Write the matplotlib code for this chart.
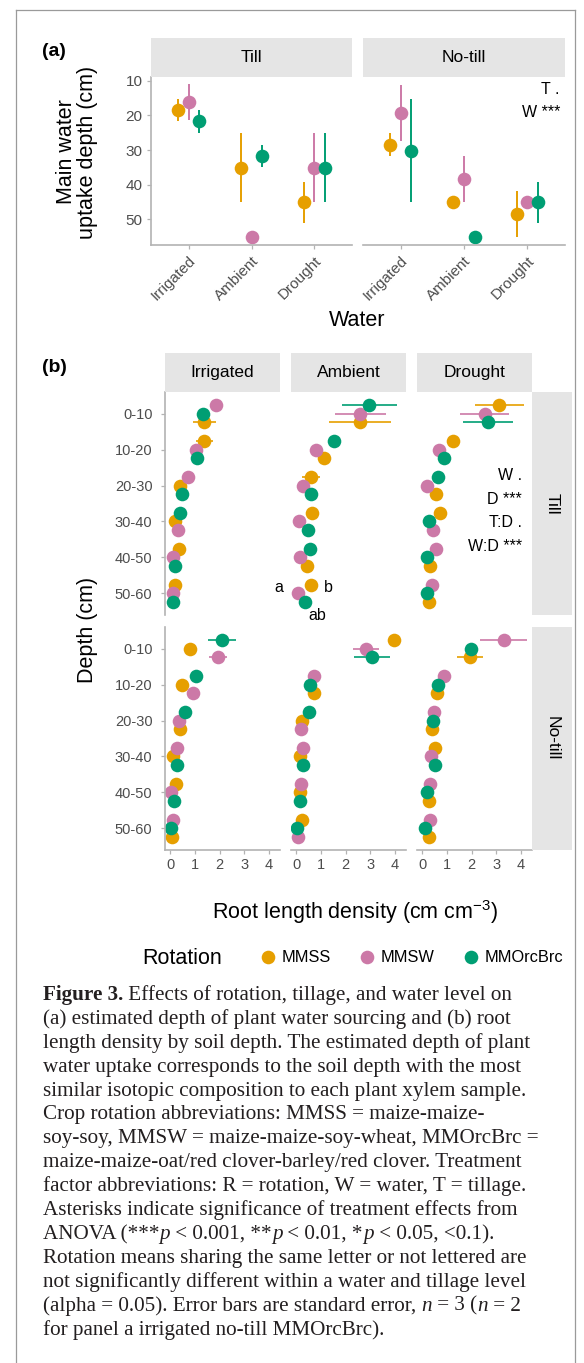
import matplotlib
matplotlib.use("Agg")
import matplotlib.pyplot as plt
from matplotlib.lines import Line2D
import numpy as np

W, H = 584, 1363

rotations = ["MMSS", "MMSW", "MMOrcBrc"]
rot_colors = ["#E69F00", "#CC79A7", "#009E73"]
rot_codes = {"O": 0, "P": 1, "G": 2}   # O = MMSS, P = MMSW, G = MMOrcBrc
water_levels = ["Irrigated", "Ambient", "Drought"]
tillage = ["Till", "No-till"]
depths = ["0-10", "10-20", "20-30", "30-40", "40-50", "50-60"]

# (a) main water uptake depth (cm); rows = rotation, cols = water level
uptake_till = [[18.5, 35.1, 45.1], [16.0, 55.1, 35.1], [21.7, 31.7, 35.1]]
uptake_till_se = [[3.2, 10.0, 5.9], [5.2, 0.0, 10.0], [3.3, 3.3, 10.0]]
uptake_notill = [[28.5, 45.1, 48.4], [19.2, 38.4, 45.1], [30.2, 55.1, 45.1]]
uptake_notill_se = [[3.3, 0.0, 6.6], [8.1, 6.7, 0.0], [14.9, 0.0, 5.9]]
uptake_stats = ["", "T .\nW ***"]

# (b) root length density (cm cm-3); rows = rotation, cols = depth
rld_till_irrigated = [[1.39, 1.39, 0.40, 0.20, 0.36, 0.19],
                      [1.86, 1.04, 0.74, 0.30, 0.13, 0.11],
                      [1.35, 1.08, 0.47, 0.38, 0.19, 0.13]]
rld_till_ambient = [[2.59, 1.12, 0.60, 0.66, 0.44, 0.62],
                    [2.59, 0.81, 0.28, 0.13, 0.15, 0.08],
                    [2.97, 1.52, 0.62, 0.46, 0.54, 0.35]]
rld_till_drought = [[3.12, 1.24, 0.56, 0.74, 0.31, 0.29],
                    [2.53, 0.69, 0.20, 0.45, 0.56, 0.38],
                    [2.67, 0.90, 0.64, 0.26, 0.20, 0.20]]
rld_notill_irrigated = [[0.81, 0.47, 0.40, 0.13, 0.24, 0.07],
                        [1.95, 0.94, 0.34, 0.27, 0.05, 0.11],
                        [2.09, 1.04, 0.61, 0.27, 0.16, 0.02]]
rld_notill_ambient = [[3.97, 0.71, 0.24, 0.17, 0.15, 0.24],
                      [2.84, 0.71, 0.20, 0.27, 0.20, 0.08],
                      [3.07, 0.58, 0.51, 0.27, 0.17, 0.04]]
rld_notill_drought = [[1.95, 0.61, 0.41, 0.50, 0.27, 0.27],
                      [3.30, 0.88, 0.47, 0.37, 0.30, 0.31],
                      [1.99, 0.65, 0.43, 0.50, 0.20, 0.11]]

rld_till_irrigated_se = [[0.47, 0.34, 0.10, 0.05, 0.08, 0.05],
                         [0.15, 0.10, 0.10, 0.05, 0.03, 0.03],
                         [0.12, 0.10, 0.08, 0.05, 0.04, 0.03]]
rld_till_ambient_se = [[1.26, 0.20, 0.35, 0.10, 0.08, 0.10],
                       [1.03, 0.10, 0.05, 0.03, 0.03, 0.02],
                       [1.12, 0.15, 0.10, 0.08, 0.08, 0.06]]
rld_till_drought_se = [[1.00, 0.15, 0.10, 0.12, 0.05, 0.05],
                       [1.00, 0.10, 0.04, 0.08, 0.10, 0.06],
                       [1.02, 0.12, 0.10, 0.04, 0.04, 0.04]]
rld_notill_irrigated_se = [[0.10, 0.08, 0.06, 0.03, 0.04, 0.02],
                           [0.36, 0.12, 0.06, 0.05, 0.02, 0.03],
                           [0.57, 0.15, 0.10, 0.05, 0.04, 0.25]]
rld_notill_ambient_se = [[0.20, 0.10, 0.05, 0.04, 0.03, 0.05],
                         [0.52, 0.10, 0.04, 0.05, 0.04, 0.02],
                         [0.73, 0.08, 0.08, 0.05, 0.04, 0.02]]
rld_notill_drought_se = [[0.52, 0.10, 0.06, 0.08, 0.05, 0.05],
                         [0.94, 0.12, 0.08, 0.06, 0.05, 0.05],
                         [0.20, 0.10, 0.06, 0.08, 0.04, 0.03]]

# vertical dodge order inside each depth band, top to bottom
order_till_irrigated = ["PGO", "OPG", "POG", "GOP", "OPG", "OPG"]
order_till_ambient = ["GPO", "GPO", "OPG", "OPG", "GPO", "OPG"]
order_till_drought = ["OPG", "OPG", "GPO", "OGP", "PGO", "PGO"]
order_notill_irrigated = ["GOP", "GOP", "GPO", "POG", "OPG", "PGO"]
order_notill_ambient = ["OPG", "PGO", "GOP", "POG", "POG", "OGP"]
order_notill_drought = ["PGO", "PGO", "PGO", "OPG", "PGO", "PGO"]

rld_stats = "W .\nD ***\nT:D .\nW:D ***"
letters_till_ambient_5060 = ["b", "a", "ab"]   # MMSS, MMSW, MMOrcBrc

caption = [
    [("Figure 3.", "b"), (" Effects of rotation, tillage, and water level on", "r")],
    [("(a) estimated depth of plant water sourcing and (b) root", "r")],
    [("length density by soil depth. The estimated depth of plant", "r")],
    [("water uptake corresponds to the soil depth with the most", "r")],
    [("similar isotopic composition to each plant xylem sample.", "r")],
    [("Crop rotation abbreviations: MMSS = maize-maize-", "r")],
    [("soy-soy, MMSW = maize-maize-soy-wheat, MMOrcBrc =", "r")],
    [("maize-maize-oat/red clover-barley/red clover. Treatment", "r")],
    [("factor abbreviations: R = rotation, W = water, T = tillage.", "r")],
    [("Asterisks indicate significance of treatment effects from", "r")],
    [("ANOVA (***", "r"), ("p", "i"), (" < 0.001, **", "r"), ("p", "i"),
     (" < 0.01, *", "r"), ("p", "i"), (" < 0.05, <0.1).", "r")],
    [("Rotation means sharing the same letter or not lettered are", "r")],
    [("not significantly different within a water and tillage level", "r")],
    [("(alpha = 0.05). Error bars are standard error, ", "r"), ("n", "i"),
     (" = 3 (", "r"), ("n", "i"), (" = 2", "r")],
    [("for panel a irrigated no-till MMOrcBrc).", "r")],
]

plt.rcParams["font.family"] = ["Liberation Sans", "DejaVu Sans"]
plt.rcParams["mathtext.fontset"] = "custom"
plt.rcParams["mathtext.rm"] = "Liberation Sans"
plt.rcParams["mathtext.it"] = "Liberation Sans:italic"
plt.rcParams["mathtext.bf"] = "Liberation Sans:bold"

AXIS_GREY = "#B3B3B3"
TICK_GREY = "#4D4D4D"
STRIP_GREY = "#E5E5E5"

fig = plt.figure(figsize=(W / 100, H / 100), dpi=100)


def box(x0, y0, x1, y1):
    return [x0 / W, 1 - y1 / H, (x1 - x0) / W, (y1 - y0) / H]


def style_axes(ax, left=True, bottom=True, size=10, ypad=3):
    for s in ["top", "right"]:
        ax.spines[s].set_visible(False)
    for s in ["left", "bottom"]:
        ax.spines[s].set_color(AXIS_GREY)
        ax.spines[s].set_linewidth(1.2)
    ax.spines["left"].set_visible(left)
    ax.spines["bottom"].set_visible(bottom)
    ax.tick_params(colors=AXIS_GREY, labelcolor=TICK_GREY, labelsize=size,
                   length=3, width=0.9, pad=3)
    ax.tick_params(axis="y", left=left, labelleft=left, pad=ypad)
    ax.tick_params(axis="x", bottom=bottom, labelbottom=bottom)
    ax.set_facecolor("none")


def strip(rect, label, rotation=0):
    s = fig.add_axes(rect)
    s.set_facecolor(STRIP_GREY)
    s.set_xticks([])
    s.set_yticks([])
    for sp in s.spines.values():
        sp.set_visible(False)
    s.text(0.5, 0.5, label, ha="center", va="center", fontsize=12.5,
           rotation=rotation, transform=s.transAxes)


# ---------------- panel (a) ----------------
a_means = [uptake_till, uptake_notill]
a_ses = [uptake_till_se, uptake_notill_se]
a_x = [(151, 352), (363, 565)]
xpos = np.arange(1, len(water_levels) + 1)
dodge_a = [-1 / 6, 0, 1 / 6]

for i, name in enumerate(tillage):
    x0, x1 = a_x[i]
    ax = fig.add_axes(box(x0, 77, x1, 245))
    for k in range(len(rotations)):
        ax.errorbar(xpos + dodge_a[k], a_means[i][k], yerr=a_ses[i][k], fmt="none",
                    ecolor=rot_colors[k], elinewidth=1.4, capsize=0)
    for k in range(len(rotations)):
        ax.plot(xpos + dodge_a[k], a_means[i][k], "o", ms=9.8,
                color=rot_colors[k], mec="none")
    ax.set_xlim(0.4, 3.6)
    ax.set_ylim(57.4, 8.9)
    ax.set_yticks([10, 20, 30, 40, 50])
    ax.set_xticks(xpos)
    ax.set_xticklabels(water_levels, rotation=45, ha="right", va="top",
                       rotation_mode="anchor")
    style_axes(ax, left=(i == 0), bottom=True, size=11)
    if uptake_stats[i]:
        ax.text(0.975, 0.857, uptake_stats[i], transform=ax.transAxes, ha="right",
                va="center", fontsize=11.5, linespacing=1.7, multialignment="right")
    strip(box(x0, 38, x1, 77), name)

fig.text(77 / W, 1 - 152 / H, "Main water\nuptake depth (cm)", rotation=90,
         ha="center", va="center", fontsize=15.5, linespacing=1.0)
fig.text(357 / W, 1 - 320 / H, "Water", ha="center", va="center", fontsize=15.5)
fig.text(42 / W, 1 - 52 / H, "(a)", ha="left", va="center", fontsize=14,
         fontweight="bold")

# ---------------- panel (b) ----------------
b_means = [[rld_till_irrigated, rld_till_ambient, rld_till_drought],
           [rld_notill_irrigated, rld_notill_ambient, rld_notill_drought]]
b_ses = [[rld_till_irrigated_se, rld_till_ambient_se, rld_till_drought_se],
         [rld_notill_irrigated_se, rld_notill_ambient_se, rld_notill_drought_se]]
b_order = [[order_till_irrigated, order_till_ambient, order_till_drought],
           [order_notill_irrigated, order_notill_ambient, order_notill_drought]]
b_cols = [(165, 280), (291, 406), (417, 532)]
b_rows = [(392, 615), (627, 850)]
ypos = np.arange(len(depths))
dodge_b = 0.24

for r, tname in enumerate(tillage):
    y0, y1 = b_rows[r]
    for c, wname in enumerate(water_levels):
        x0, x1 = b_cols[c]
        ax = fig.add_axes(box(x0, y0, x1, y1))
        slot = np.zeros((len(rotations), len(depths)))
        for d, order in enumerate(b_order[r][c]):
            for j, code in enumerate(order):
                slot[rot_codes[code], d] = j - 1
        for k in range(len(rotations)):
            ax.errorbar(b_means[r][c][k], ypos + slot[k] * dodge_b,
                        xerr=b_ses[r][c][k], fmt="none", ecolor=rot_colors[k],
                        elinewidth=1.2, capsize=0)
        for k in range(len(rotations)):
            ax.plot(b_means[r][c][k], ypos + slot[k] * dodge_b, "o", ms=9.8,
                    color=rot_colors[k], mec="none")
        ax.set_xlim(-0.21, 4.45)
        ax.set_ylim(5.6, -0.6)
        ax.set_yticks(ypos)
        ax.set_yticklabels(depths)
        ax.set_xticks([0, 1, 2, 3, 4])
        style_axes(ax, left=(c == 0), bottom=(r == 1), size=10.5, ypad=6)
        if r == 0 and c == 2:
            ax.text(0.913, 0.466, rld_stats, transform=ax.transAxes, ha="right",
                    va="center", fontsize=11.5, linespacing=1.7,
                    multialignment="right")
        if r == 0 and c == 1:
            offsets = [(12, -2), (-14, 4), (9, -10)]
            for k in range(len(rotations)):
                ax.annotate(letters_till_ambient_5060[k],
                            (b_means[r][c][k][5], 5 + slot[k, 5] * dodge_b),
                            xytext=offsets[k], textcoords="offset points",
                            ha="center", va="center", fontsize=11.5,
                            annotation_clip=False)
        if r == 0:
            strip(box(x0, 353, x1, 392), wname)
    strip(box(532, y0, 572, y1), tname, rotation=270)

fig.text(87 / W, 1 - 630 / H, "Depth (cm)", rotation=90, ha="center",
         va="center", fontsize=15.5)
fig.text(355 / W, 1 - 912 / H, "Root length density (cm cm$^{-3}$)",
         ha="center", va="center", fontsize=15.5)
fig.text(42 / W, 1 - 368 / H, "(b)", ha="left", va="center", fontsize=14,
         fontweight="bold")

# legend
handles = [Line2D([], [], marker="o", ls="none", color=c, ms=9.8, mec="none")
           for c in rot_colors]
fig.text(142 / W, 1 - 958 / H, "Rotation", ha="left", va="center", fontsize=15.5)
fig.legend(handles, rotations, loc="center left", ncol=3, frameon=False,
           bbox_to_anchor=(261 / W, 1 - 958 / H), fontsize=11.8, borderpad=0,
           borderaxespad=0, handlelength=0.8, handletextpad=0.45, columnspacing=1.8)

# caption
renderer = fig.canvas.get_renderer()


def run_width(text, style, size):
    kw = dict(fontsize=size, family=["Liberation Serif"],
              fontweight="bold" if style == "b" else "normal",
              fontstyle="italic" if style == "i" else "normal")
    t1 = fig.text(0, 0, "|" + text + "|", **kw)
    t2 = fig.text(0, 0, "||", **kw)
    w = t1.get_window_extent(renderer).width - t2.get_window_extent(renderer).width
    t1.remove()
    t2.remove()
    return w, kw


cap_size = 15.2
for n, line in enumerate(caption):
    x = 43.0
    y = 1000 + n * 23.9
    for text, style in line:
        w, kw = run_width(text, style, cap_size)
        fig.text(x / W, 1 - y / H, text, ha="left", va="baseline",
                 color="#231F20", **kw)
        x += w

# outer frame
frame = dict(transform=fig.transFigure, color="#9A9A9A", lw=0.9)
fig.add_artist(Line2D([16 / W, 16 / W], [0, 1 - 10 / H], **frame))
fig.add_artist(Line2D([16 / W, 575 / W], [1 - 10 / H, 1 - 10 / H], **frame))
fig.add_artist(Line2D([575 / W, 575 / W], [0, 1 - 10 / H], **frame))

fig.savefig("out.png", dpi=100)
